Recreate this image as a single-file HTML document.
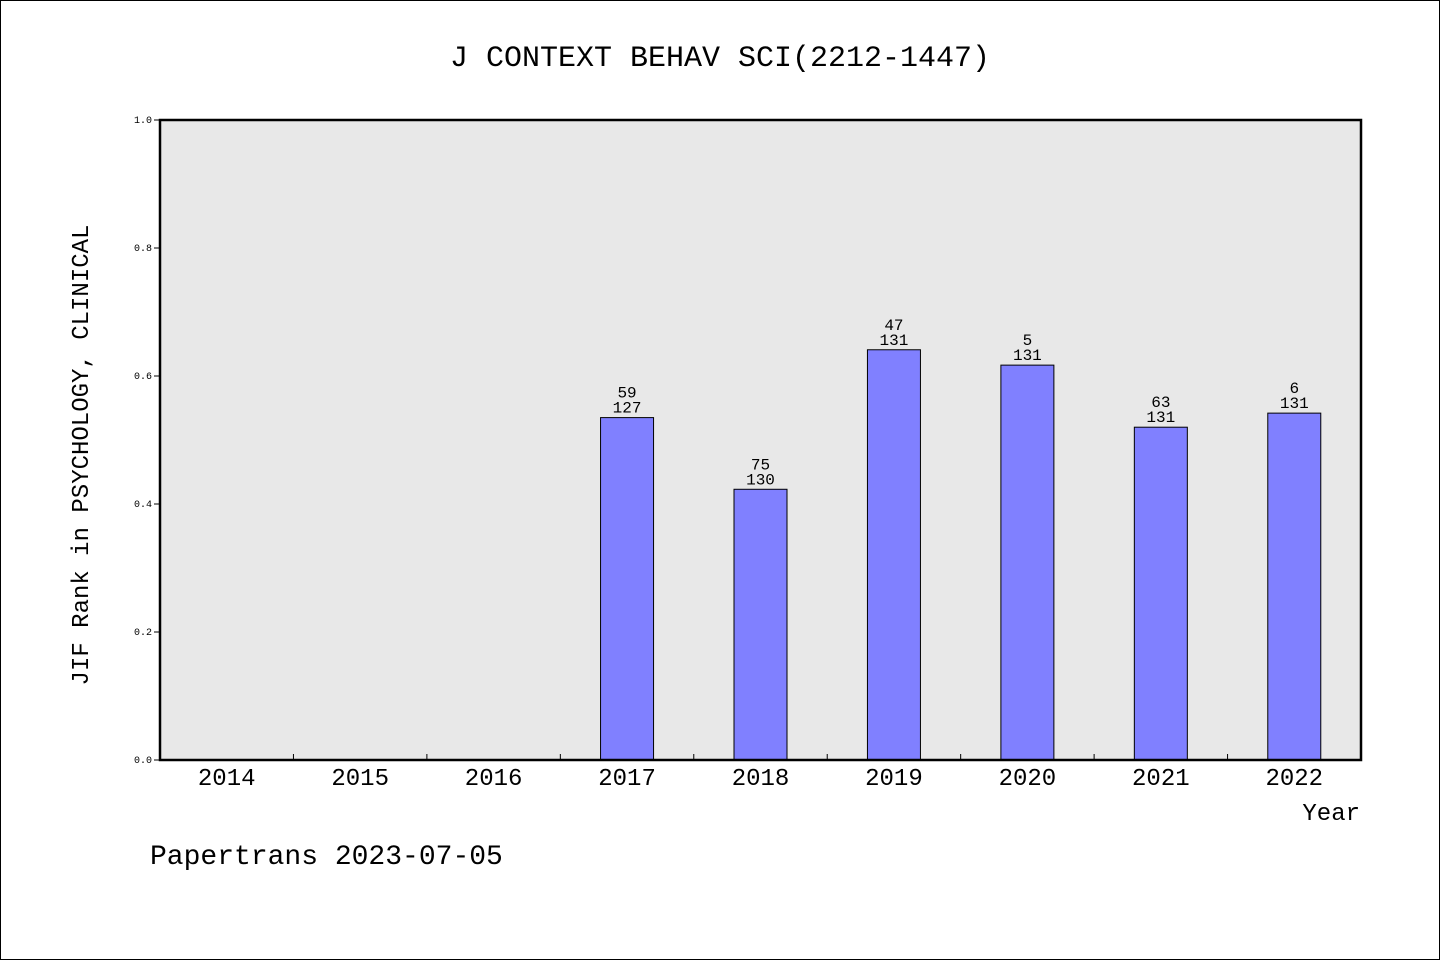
<!DOCTYPE html>
<html><head><meta charset="utf-8"><style>
body{margin:0;background:#fff;}
svg text{font-family:"WenQuanYi Zen Hei","Liberation Mono",monospace;fill:#000;}
</style></head><body>
<svg width="1440" height="960" xmlns="http://www.w3.org/2000/svg">
<rect x="0.5" y="0.5" width="1439" height="959" fill="#fff" stroke="#000"/>
<text x="720" y="66" font-size="30" text-anchor="middle">J CONTEXT BEHAV SCI(2212-1447)</text>
<rect x="160" y="120" width="1201" height="640" fill="#e8e8e8"/>
<g id="bars"></g>
<g id="axes"></g>
<rect x="160" y="120" width="1201" height="640" fill="none" stroke="#000" stroke-width="2.5"/>
<text transform="translate(88,455) rotate(-90)" font-size="24" text-anchor="middle">JIF Rank in PSYCHOLOGY, CLINICAL</text>
<text x="1360" y="820" font-size="24" text-anchor="end">Year</text>
<text x="150" y="864" font-size="28">Papertrans 2023-07-05</text>
</svg>
<script>
const categories=["2014","2015","2016","2017","2018","2019","2020","2021","2022"];
const values=[null,null,null,0.535,0.423,0.641,0.617,0.520,0.542];
const ranks=[null,null,null,"59","75","47","5","63","6"];
const totals=[null,null,null,"127","130","131","131","131","131"];
const yTicks=[0,0.2,0.4,0.6,0.8,1.0];
const yTickLabels=["0.0","0.2","0.4","0.6","0.8","1.0"];
const X0=160,X1=1361,Y0=760,Y1=120;
const step=(X1-X0)/categories.length;
const xc=i=>X0+step*(i+0.5);
const y=v=>Y0-(Y0-Y1)*v;
const NS="http://www.w3.org/2000/svg";
function mk(tag,attrs,parent,txt){const e=document.createElementNS(NS,tag);for(const k in attrs)e.setAttribute(k,attrs[k]);if(txt!=null)e.textContent=txt;parent.appendChild(e);return e;}
const bars=document.getElementById('bars'),axes=document.getElementById('axes');
categories.forEach((c,i)=>{
  const t=mk('text',{x:xc(i),y:785,'font-size':24,'text-anchor':'middle'},axes,c);
  
  
  if(i>0){const l=mk('line',{x1:X0+step*i,x2:X0+step*i,y1:Y0,y2:Y0-6,stroke:'#000'},axes);
    
    }
  if(values[i]!=null){
    const r=mk('rect',{x:xc(i)-26.5,y:y(values[i]),width:53,height:Y0-y(values[i]),fill:'#8080ff',stroke:'#000','stroke-width':1},bars);
    
    
    const a=mk('text',{x:xc(i),y:y(values[i])-20,'font-size':16,'text-anchor':'middle'},bars,ranks[i]);
    
    
    const b=mk('text',{x:xc(i),y:y(values[i])-5,'font-size':16,'text-anchor':'middle'},bars,totals[i]);
    
    
  }
});
yTicks.forEach((v,i)=>{
  const l=mk('line',{x1:X0-6,x2:X0,y1:y(v),y2:y(v),stroke:'#000'},axes);
  
  
  const t=mk('text',{x:X0-8,y:y(v)+3,'font-size':10,'text-anchor':'end'},axes,yTickLabels[i]);
  
  
});
</script>
</body></html>
